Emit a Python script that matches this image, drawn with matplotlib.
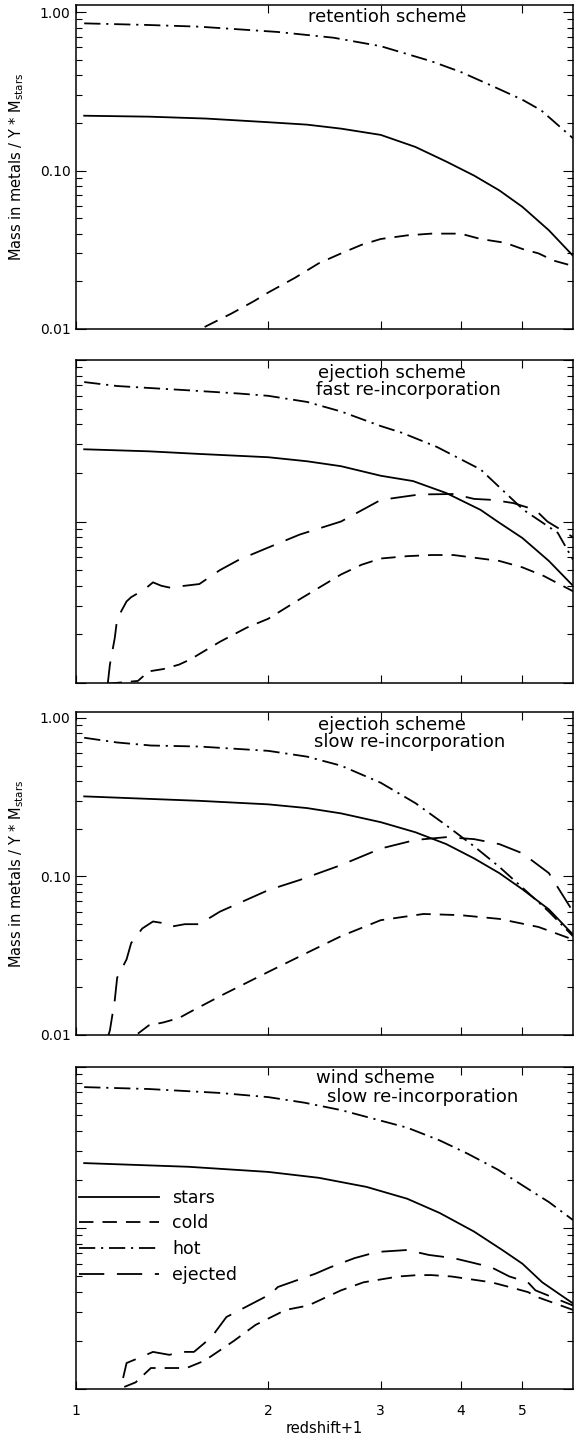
import matplotlib
matplotlib.use("Agg")
import matplotlib.pyplot as plt
from matplotlib.ticker import FixedLocator, NullLocator, LogLocator, NullFormatter, FixedFormatter
from matplotlib.lines import Line2D

plt.rcParams['font.family'] = ['DejaVu Sans']

# ---------------- data ----------------
# Panel 1: retention scheme
p1_stars_x = [1.03, 1.3, 1.6, 2.0, 2.3, 2.6, 3.0, 3.4, 3.8, 4.2, 4.6, 5.0, 5.5, 6.0]
p1_stars_y = [0.222, 0.219, 0.213, 0.202, 0.195, 0.184, 0.168, 0.141, 0.114, 0.093, 0.075, 0.059, 0.042, 0.029]
p1_hot_x = [1.03, 1.3, 1.56, 2.07, 2.53, 3.0, 3.6, 4.0, 4.5, 5.0, 5.35, 6.0]
p1_hot_y = [0.85, 0.83, 0.81, 0.75, 0.69, 0.61, 0.49, 0.42, 0.34, 0.28, 0.24, 0.16]
p1_cold_x = [1.59, 1.75, 1.9, 2.0, 2.2, 2.4, 2.6, 2.8, 3.0, 3.3, 3.6, 4.0, 4.3, 4.7, 5.0, 5.3, 5.6, 6.0]
p1_cold_y = [0.0103, 0.0125, 0.015, 0.017, 0.021, 0.026, 0.030, 0.034, 0.037, 0.039, 0.040, 0.040, 0.037, 0.035, 0.032, 0.030, 0.027, 0.025]

# Panel 2: ejection scheme, fast re-incorporation
p2_stars_x = [1.03, 1.3, 1.56, 2.0, 2.3, 2.6, 3.0, 3.37, 3.8, 4.3, 4.57, 5.0, 5.5, 6.0]
p2_stars_y = [0.28, 0.272, 0.262, 0.25, 0.236, 0.22, 0.192, 0.178, 0.15, 0.118, 0.10, 0.079, 0.057, 0.040]
p2_hot_x = [1.03, 1.16, 1.31, 1.49, 1.8, 2.0, 2.3, 2.6, 3.0, 3.24, 3.67, 4.3, 5.02, 5.68, 6.0]
p2_hot_y = [0.73, 0.69, 0.67, 0.65, 0.62, 0.60, 0.55, 0.48, 0.39, 0.354, 0.29, 0.21, 0.118, 0.085, 0.058]
p2_cold_x = [1.12, 1.25, 1.30, 1.37, 1.45, 1.51, 1.68, 1.85, 2.0, 2.24, 2.6, 2.8, 3.0, 3.3, 3.6, 3.9, 4.3, 4.6, 5.0, 5.4, 6.0]
p2_cold_y = [0.0099, 0.0103, 0.0118, 0.0122, 0.013, 0.014, 0.018, 0.022, 0.025, 0.033, 0.047, 0.054, 0.059, 0.061, 0.062, 0.062, 0.059, 0.057, 0.052, 0.046, 0.037]
p2_ej_x = [1.12, 1.13, 1.15, 1.16, 1.20, 1.22, 1.28, 1.32, 1.36, 1.40, 1.48, 1.56, 1.68, 1.8, 2.0, 2.24, 2.6, 3.0, 3.24, 3.45, 3.9, 4.2, 4.5, 4.84, 5.24, 5.47, 6.0]
p2_ej_y = [0.0095, 0.013, 0.019, 0.025, 0.032, 0.034, 0.038, 0.042, 0.040, 0.039, 0.040, 0.041, 0.05, 0.058, 0.069, 0.083, 0.10, 0.136, 0.142, 0.147, 0.148, 0.138, 0.136, 0.13, 0.118, 0.10, 0.08]

# Panel 3: ejection scheme, slow re-incorporation
p3_stars_x = [1.03, 1.56, 2.0, 2.3, 2.6, 3.0, 3.4, 3.8, 4.2, 4.6, 5.0, 5.5, 6.0]
p3_stars_y = [0.32, 0.30, 0.285, 0.27, 0.25, 0.22, 0.19, 0.16, 0.13, 0.105, 0.083, 0.062, 0.043]
p3_hot_x = [1.03, 1.16, 1.31, 1.56, 2.0, 2.3, 2.6, 3.0, 3.4, 3.8, 4.2, 4.6, 5.0, 5.5, 6.0]
p3_hot_y = [0.75, 0.70, 0.67, 0.66, 0.62, 0.57, 0.50, 0.39, 0.29, 0.21, 0.155, 0.115, 0.085, 0.06, 0.042]
p3_cold_x = [1.25, 1.30, 1.37, 1.45, 1.51, 1.7, 2.0, 2.3, 2.6, 3.0, 3.5, 4.0, 4.6, 5.3, 6.0]
p3_cold_y = [0.0102, 0.0115, 0.012, 0.0128, 0.014, 0.018, 0.025, 0.033, 0.042, 0.053, 0.058, 0.057, 0.054, 0.048, 0.040]
p3_ej_x = [1.12, 1.13, 1.15, 1.16, 1.20, 1.22, 1.27, 1.32, 1.36, 1.40, 1.48, 1.56, 1.68, 2.0, 2.24, 2.6, 3.0, 3.4, 3.8, 4.2, 4.6, 5.0, 5.5, 6.0]
p3_ej_y = [0.0095, 0.0107, 0.0166, 0.023, 0.030, 0.038, 0.047, 0.052, 0.051, 0.048, 0.05, 0.05, 0.06, 0.082, 0.095, 0.118, 0.15, 0.17, 0.177, 0.172, 0.16, 0.14, 0.105, 0.06]

# Panel 4: wind scheme, slow re-incorporation
p4_stars_x = [1.03, 1.5, 2.0, 2.4, 2.85, 3.3, 3.71, 4.2, 4.65, 5.0, 5.37, 6.0]
p4_stars_y = [0.253, 0.24, 0.223, 0.205, 0.18, 0.152, 0.124, 0.095, 0.073, 0.06, 0.046, 0.034]
p4_hot_x = [1.03, 1.3, 1.68, 2.0, 2.28, 2.6, 2.85, 3.3, 3.71, 4.1, 4.58, 5.16, 5.5, 6.0]
p4_hot_y = [0.75, 0.73, 0.69, 0.65, 0.60, 0.54, 0.49, 0.42, 0.35, 0.29, 0.23, 0.17, 0.145, 0.112]
p4_cold_x = [1.19, 1.24, 1.31, 1.49, 1.59, 1.77, 1.91, 2.13, 2.31, 2.6, 2.82, 3.2, 3.43, 3.6, 3.87, 4.47, 4.77, 5.1, 5.3, 6.0]
p4_cold_y = [0.0103, 0.011, 0.0135, 0.0135, 0.015, 0.020, 0.025, 0.031, 0.033, 0.041, 0.046, 0.05, 0.051, 0.051, 0.05, 0.046, 0.043, 0.040, 0.037, 0.031]
p4_ej_x = [1.185, 1.2, 1.25, 1.32, 1.4, 1.46, 1.53, 1.63, 1.72, 2.02, 2.07, 2.37, 2.5, 2.73, 2.96, 3.3, 3.57, 3.9, 4.17, 4.47, 4.77, 5.1, 5.24, 6.0]
p4_ej_y = [0.0117, 0.0145, 0.0155, 0.017, 0.0163, 0.017, 0.017, 0.021, 0.028, 0.039, 0.043, 0.052, 0.057, 0.065, 0.071, 0.073, 0.068, 0.065, 0.061, 0.057, 0.05, 0.046, 0.041, 0.033]

panel_titles = [["retention scheme"],
                ["ejection scheme", "fast re-incorporation"],
                ["ejection scheme", "slow re-incorporation"],
                ["wind scheme", "slow re-incorporation"]]
legend_labels = ["stars", "cold", "hot", "ejected"]
x_ticks = [1, 2, 3, 4, 5]
x_ticklabels = ["1", "2", "3", "4", "5"]
y_major = [0.01, 0.1, 1.0]
y_majorlabels = ["0.01", "0.10", "1.00"]
ylabel_text = r"Mass in metals / Y * M$_{\rm stars}$"
xlabel_text = "redshift+1"

# ---------------- styles ----------------
LW = 1.3
ST = dict(color='black', lw=LW, ls='-')
CO = dict(color='black', lw=LW, ls=(0, (8.0, 5.0)))
HO = dict(color='black', lw=LW, ls=(0, (9.0, 3.2, 1.2, 3.2)))
EJ = dict(color='black', lw=LW, ls=(0, (14.0, 7.0)))

W, H = 574, 1437
fig = plt.figure(figsize=(W / 100, H / 100), dpi=100)

# panel pixel boxes (top, bottom)
boxes = [(5, 329), (360, 683), (712, 1035), (1067, 1389)]
ylims = [(0.01, 1.11), (0.01, 1.0), (0.01, 1.09), (0.01, 1.0)]
left_px, right_px = 76, 573

axes = []
for (top, bot) in boxes:
    ax = fig.add_axes([left_px / W, 1 - bot / H, (right_px - left_px) / W, (bot - top) / H])
    axes.append(ax)

series = [
    [(p1_stars_x, p1_stars_y, ST), (p1_cold_x, p1_cold_y, CO), (p1_hot_x, p1_hot_y, HO)],
    [(p2_stars_x, p2_stars_y, ST), (p2_cold_x, p2_cold_y, CO), (p2_hot_x, p2_hot_y, HO), (p2_ej_x, p2_ej_y, EJ)],
    [(p3_stars_x, p3_stars_y, ST), (p3_cold_x, p3_cold_y, CO), (p3_hot_x, p3_hot_y, HO), (p3_ej_x, p3_ej_y, EJ)],
    [(p4_stars_x, p4_stars_y, ST), (p4_cold_x, p4_cold_y, CO), (p4_hot_x, p4_hot_y, HO), (p4_ej_x, p4_ej_y, EJ)],
]

# title text placement: (center x px, baseline offset from top px)
title_pos = [[(387, 17)],
             [(392, 18), (408, 35)],
             [(392, 18), (410, 35)],
             [(375, 16), (423, 35)]]

for i, ax in enumerate(axes):
    for xs, ys, st in series[i]:
        ax.plot(xs, ys, **st)
    ax.set_xscale('log')
    ax.set_yscale('log')
    ax.set_xlim(1, 6.0)
    ax.set_ylim(*ylims[i])
    ax.xaxis.set_major_locator(FixedLocator(x_ticks))
    ax.xaxis.set_minor_locator(NullLocator())
    ax.yaxis.set_major_locator(FixedLocator(y_major))
    ax.yaxis.set_minor_locator(LogLocator(base=10, subs=[2, 3, 4, 5, 6, 7, 8, 9]))
    ax.yaxis.set_minor_formatter(NullFormatter())
    if i == 3:
        ax.xaxis.set_major_formatter(FixedFormatter(x_ticklabels))
    else:
        ax.xaxis.set_major_formatter(NullFormatter())
    if i in (0, 2):
        ax.yaxis.set_major_formatter(FixedFormatter(y_majorlabels))
        ax.set_ylabel(ylabel_text, fontsize=10.5)
        ax.yaxis.set_label_coords(-0.1, 0.5)
    else:
        ax.yaxis.set_major_formatter(NullFormatter())
    ax.tick_params(axis='both', which='both', direction='in', top=True, right=True, width=0.8)
    ax.tick_params(axis='x', which='major', length=5.5, pad=11, labelsize=10)
    ax.tick_params(axis='y', which='major', length=7.5, pad=4, labelsize=10)
    ax.tick_params(axis='y', which='minor', length=4.5)
    for sp in ax.spines.values():
        sp.set_linewidth(1.1)
    top, bot = boxes[i]
    hpx = bot - top
    for line, (cx, off) in zip(panel_titles[i], title_pos[i]):
        ax.text((cx - left_px) / (right_px - left_px), 1 - off / hpx, line,
                transform=ax.transAxes, ha='center', va='baseline', fontsize=13)

axes[3].set_xlabel(xlabel_text, fontsize=10.5)
axes[3].xaxis.set_label_coords(0.5, -0.1)

handles = [Line2D([], [], **ST), Line2D([], [], **CO), Line2D([], [], **HO), Line2D([], [], **EJ)]
fs = 12.5
fpx = fs * 100 / 72
axes[3].legend(handles, legend_labels, loc='upper left', bbox_to_anchor=(3 / 497, 0.622),
               frameon=False, fontsize=fs, handlelength=80 / fpx, handletextpad=13 / fpx,
               labelspacing=0.44, borderpad=0, borderaxespad=0)

fig.savefig("out.png", dpi=100)
